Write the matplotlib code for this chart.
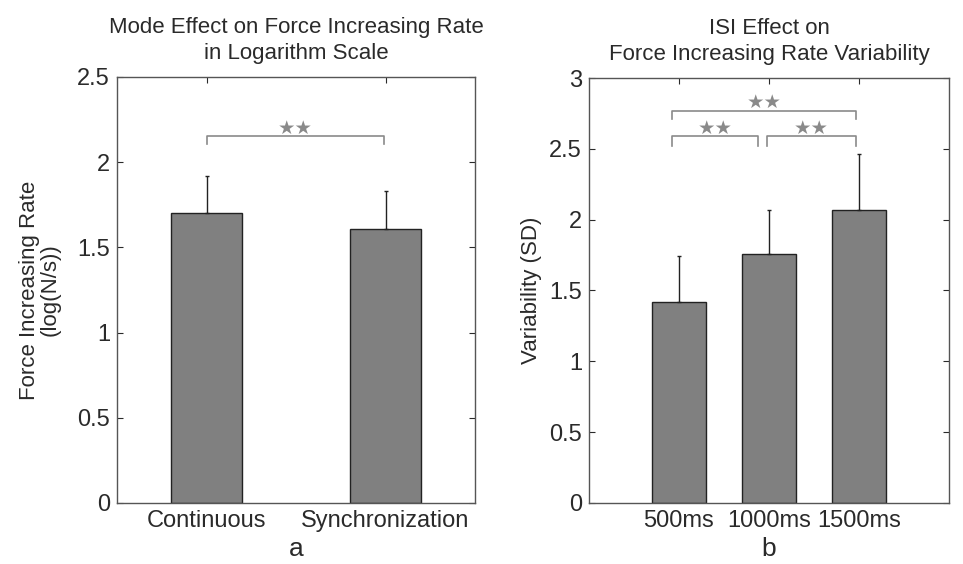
import numpy as np
import matplotlib.pyplot as plt

plt.rcParams['font.family'] = ['Liberation Sans', 'DejaVu Sans']

# panel a
modes = ['Continuous', 'Synchronization']
mode_mean = [1.70, 1.61]
mode_err = [0.22, 0.22]

# panel b
isi = ['500ms', '1000ms', '1500ms']
isi_mean = [1.42, 1.76, 2.07]
isi_err = [0.32, 0.31, 0.39]

text_col = '#2a2a2a'
bar_col = '#808080'
sig_col = '#8a8a8a'


def style_axes(ax):
    ax.tick_params(direction='in', top=True, right=True, length=4, pad=5,
                   labelsize=17, colors=text_col, width=0.8)
    for s in ax.spines.values():
        s.set_color('#555555')
        s.set_linewidth(1.0)


def bracket(ax, x1, x2, y, drop, label):
    ax.plot([x1, x1, x2, x2], [y - drop, y, y, y - drop], color=sig_col, lw=1.2)
    ax.text((x1 + x2) / 2, y - 0.01, label, ha='center', va='bottom',
            color=sig_col, fontsize=14, family=['DejaVu Sans'])


fig = plt.figure(figsize=(9.63, 5.64), dpi=100)

# ---- panel a
ax1 = fig.add_axes([0.1215, 0.1082, 0.3718, 0.7553])
x1 = np.arange(1, len(modes) + 1)
ax1.bar(x1, mode_mean, width=0.4, color=bar_col, edgecolor='#222222', lw=1.0, zorder=2)
ax1.errorbar(x1, mode_mean, yerr=[np.zeros(len(modes)), mode_err], fmt='none',
             ecolor='#222222', elinewidth=1.0, capsize=1.5, zorder=3)
ax1.set_xlim(0.5, 2.5)
ax1.set_ylim(0, 2.5)
ax1.set_xticks(x1)
ax1.set_xticklabels(modes)
ax1.set_yticks(np.arange(0, 2.51, 0.5))
ax1.set_yticklabels(['0', '0.5', '1', '1.5', '2', '2.5'])
style_axes(ax1)
ax1.set_title('Mode Effect on Force Increasing Rate\nin Logarithm Scale',
              fontsize=16, color=text_col, pad=13, linespacing=1.3)
ax1.set_ylabel('Force Increasing Rate\n(log(N/s))', fontsize=16, color=text_col,
               linespacing=1.0, labelpad=12)
ax1.set_xlabel('a', fontsize=19, color=text_col, labelpad=4)
bracket(ax1, 1.0, 1.99, 2.155, 0.05, '★★')

# ---- panel b
ax2 = fig.add_axes([0.6116, 0.1082, 0.3738, 0.7535])
x2 = np.arange(1, len(isi) + 1)
ax2.bar(x2, isi_mean, width=0.6, color=bar_col, edgecolor='#222222', lw=1.0, zorder=2)
ax2.errorbar(x2, isi_mean, yerr=[np.zeros(len(isi)), isi_err], fmt='none',
             ecolor='#222222', elinewidth=1.0, capsize=1.5, zorder=3)
ax2.set_xlim(0, 4)
ax2.set_ylim(0, 3)
ax2.set_xticks(x2)
ax2.set_xticklabels(isi)
ax2.set_yticks(np.arange(0, 3.01, 0.5))
ax2.set_yticklabels(['0', '0.5', '1', '1.5', '2', '2.5', '3'])
style_axes(ax2)
ax2.set_title('ISI Effect on\nForce Increasing Rate Variability',
              fontsize=16, color=text_col, pad=13, linespacing=1.3)
ax2.set_ylabel('Variability (SD)', fontsize=16, color=text_col, labelpad=5)
ax2.set_xlabel('b', fontsize=19, color=text_col, labelpad=4)
bracket(ax2, 0.92, 2.97, 2.77, 0.06, '★★')
bracket(ax2, 0.92, 1.88, 2.59, 0.07, '★★')
bracket(ax2, 1.98, 2.97, 2.59, 0.07, '★★')

fig.savefig('out.png', dpi=100)
